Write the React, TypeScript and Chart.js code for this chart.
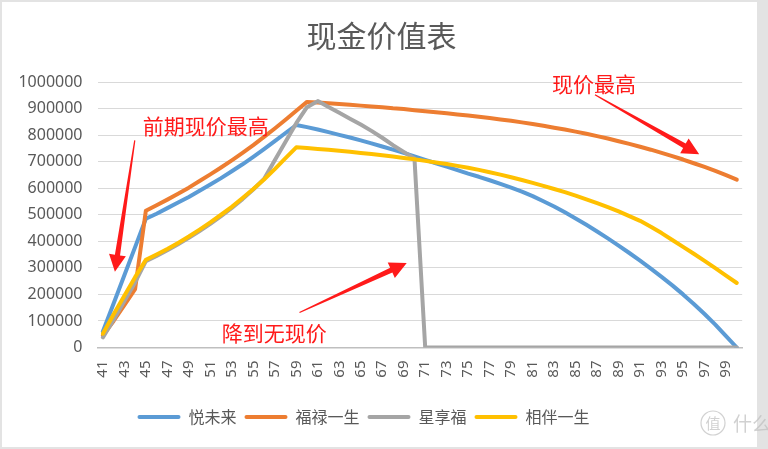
import React, { useEffect, useRef } from "react";
import { Chart, registerables } from "chart.js";

Chart.register(...registerables);

// ---- data ----
const ages = [
  41, 42, 43, 44, 45, 46, 47, 48, 49, 50, 51, 52, 53, 54, 55, 56, 57, 58, 59, 60,
  61, 62, 63, 64, 65, 66, 67, 68, 69, 70, 71, 72, 73, 74, 75, 76, 77, 78, 79, 80,
  81, 82, 83, 84, 85, 86, 87, 88, 89, 90, 91, 92, 93, 94, 95, 96, 97, 98, 99, 100,
];

const yueWeiLai = [
  60000, 166000, 272000, 378000, 485000, 504000, 525000, 546000, 567000, 590000,
  614000, 638000, 664000, 690000, 718000, 747000, 777000, 808000, 838000, 830000,
  821000, 811000, 801000, 791000, 780000, 769000, 757000, 745000, 733000, 720000,
  707000, 694000, 681000, 668000, 655000, 643000, 630000, 616000, 602000, 587000,
  570000, 551000, 531000, 509000, 486000, 462000, 437000, 411000, 384000, 356000,
  327000, 297000, 266000, 234000, 200000, 164000, 126000, 86000, 43000, 0,
];

const fuLuYiSheng = [
  45000, 100000, 160000, 220000, 515000, 536000, 557000, 579000, 602000, 627000,
  652000, 678000, 705000, 733000, 762000, 793000, 825000, 858000, 892000, 925000,
  923000, 920000, 917000, 914000, 911000, 908000, 905000, 901000, 898000, 894000,
  890000, 886000, 882000, 878000, 874000, 869000, 864000, 859000, 854000, 848000,
  842000, 835000, 828000, 821000, 813000, 805000, 796000, 787000, 777000, 767000,
  756000, 745000, 733000, 721000, 708000, 694000, 680000, 665000, 649000, 632000,
];

const xingXiangFu = [
  38000, 105000, 175000, 245000, 325000, 345000, 366000, 389000, 413000, 439000,
  466000, 495000, 526000, 559000, 595000, 635000, 705000, 775000, 845000, 905000,
  928000, 906000, 884000, 862000, 840000, 816000, 790000, 762000, 737000, 712000,
  0, 0, 0, 0, 0, 0, 0, 0, 0, 0,
  0, 0, 0, 0, 0, 0, 0, 0, 0, 0,
  0, 0, 0, 0, 0, 0, 0, 0, 0, 0,
];

const xiangBanYiSheng = [
  52000, 125000, 195000, 265000, 330000, 350000, 371000, 394000, 418000, 444000,
  471000, 500000, 530000, 563000, 597000, 633000, 672000, 713000, 754000, 751000,
  748000, 745000, 741000, 737000, 733000, 729000, 724000, 719000, 714000, 709000,
  703000, 697000, 691000, 684000, 677000, 669000, 660000, 651000, 641000, 631000,
  620000, 609000, 597000, 585000, 572000, 558000, 544000, 529000, 513000, 495000,
  477000, 455000, 431000, 405000, 379000, 353000, 326000, 299000, 271000, 243000,
];

const seriesNames = ["悦未来", "福禄一生", "星享福", "相伴一生"];
const seriesColors = ["#5b9bd5", "#ed7d31", "#a5a5a5", "#ffc000"];
const titleText = "现金价值表";

// annotations in data coordinates (category index, value)
const noteTexts = ["前期现价最高", "现价最高", "降到无现价"];
const noteIdx = [3.72, 41.8, 11.06];
const noteVal = [833000, 991000, 55000];

const arrowFromIdx = [2.97, 45.8, 18.3];
const arrowFromVal = [780000, 952000, 132000];
const arrowToIdx = [1.12, 55.5, 28.28];
const arrowToVal = [285000, 728000, 318000];

const CJK = '"Noto Sans CJK SC", "Noto Sans", sans-serif';
const GRAY_TEXT = "#595959";
const RED = "#ff1a1a";

function drawArrow(ctx: CanvasRenderingContext2D, x1: number, y1: number, x2: number, y2: number) {
  const dx = x2 - x1;
  const dy = y2 - y1;
  const len = Math.hypot(dx, dy);
  const ux = dx / len;
  const uy = dy / len;
  const nx = -uy;
  const ny = ux;
  const headLen = 17;
  const headHalf = 8.5;
  const bx = x2 - ux * headLen;
  const by = y2 - uy * headLen;
  ctx.beginPath();
  ctx.moveTo(x1 + nx * 0.6, y1 + ny * 0.6);
  ctx.lineTo(bx + nx * 2.6, by + ny * 2.6);
  ctx.lineTo(bx + nx * headHalf, by + ny * headHalf);
  ctx.lineTo(x2, y2);
  ctx.lineTo(bx - nx * headHalf, by - ny * headHalf);
  ctx.lineTo(bx - nx * 2.6, by - ny * 2.6);
  ctx.lineTo(x1 - nx * 0.6, y1 - ny * 0.6);
  ctx.closePath();
  ctx.fill();
}

const framePlugin = {
  id: "frame",
  beforeDraw(chart: any) {
    const ctx = chart.ctx as CanvasRenderingContext2D;
    ctx.save();
    ctx.fillStyle = "#e3e3e3";
    ctx.fillRect(0, 0, chart.width, chart.height);
    ctx.fillStyle = "#ffffff";
    ctx.fillRect(2, 2, 755, 445);
    ctx.restore();
  },
};

const layoutShiftPlugin = {
  id: "layoutShift",
  afterLayout(chart: any) {
    if (chart.legend) {
      chart.legend.left -= 18;
      chart.legend.right -= 18;
    }
  },
};

const notesPlugin = {
  id: "notes",
  afterDatasetsDraw(chart: any) {
    const ctx = chart.ctx as CanvasRenderingContext2D;
    const xs = chart.scales.x;
    const ys = chart.scales.y;
    ctx.save();
    ctx.fillStyle = RED;
    for (let i = 0; i < arrowFromIdx.length; i++) {
      drawArrow(
        ctx,
        xs.getPixelForValue(arrowFromIdx[i]),
        ys.getPixelForValue(arrowFromVal[i]),
        xs.getPixelForValue(arrowToIdx[i]),
        ys.getPixelForValue(arrowToVal[i])
      );
    }
    ctx.font = `21px ${CJK}`;
    ctx.textAlign = "left";
    ctx.textBaseline = "middle";
    for (let i = 0; i < noteTexts.length; i++) {
      ctx.fillText(noteTexts[i], xs.getPixelForValue(noteIdx[i]), ys.getPixelForValue(noteVal[i]));
    }
    ctx.restore();
  },
  afterDraw(chart: any) {
    const ctx = chart.ctx as CanvasRenderingContext2D;
    ctx.save();
    ctx.strokeStyle = "rgba(190,190,190,0.7)";
    ctx.fillStyle = "rgba(190,190,190,0.7)";
    ctx.lineWidth = 1.2;
    ctx.beginPath();
    ctx.arc(713, 423, 12, 0, Math.PI * 2);
    ctx.stroke();
    ctx.font = `15px ${CJK}`;
    ctx.textAlign = "center";
    ctx.textBaseline = "middle";
    ctx.fillText("值", 713, 423);
    ctx.font = `19px ${CJK}`;
    ctx.textAlign = "left";
    ctx.fillText("什么值得买", 733, 424);
    ctx.restore();
  },
};

export default function App() {
  const ref = useRef<HTMLCanvasElement>(null);

  useEffect(() => {
    const canvas = ref.current;
    if (!canvas) return;
    const seriesData = [yueWeiLai, fuLuYiSheng, xingXiangFu, xiangBanYiSheng];
    const chart = new Chart(canvas, {
      type: "line",
      data: {
        labels: ages.map(String),
        datasets: seriesData.map((d, i) => ({
          label: seriesNames[i],
          data: d,
          borderColor: seriesColors[i],
          backgroundColor: seriesColors[i],
          borderWidth: 4,
          pointRadius: 0,
          pointHoverRadius: 0,
          tension: 0,
          fill: false,
          borderCapStyle: "round" as const,
          borderJoinStyle: "round" as const,
          order: 4 - i,
        })),
      },
      options: {
        responsive: false,
        animation: false,
        devicePixelRatio: 1,
        events: [],
        layout: { padding: { left: 20, right: 25, top: 2, bottom: 14 } },
        plugins: {
          tooltip: { enabled: false },
          title: {
            display: true,
            text: titleText,
            color: GRAY_TEXT,
            font: { family: CJK, size: 30, weight: "normal" as any },
            padding: { top: 16, bottom: 28 },
          },
          legend: {
            display: true,
            position: "bottom",
            labels: {
              boxWidth: 43,
              boxHeight: 4,
              padding: 8,
              color: GRAY_TEXT,
              font: { family: CJK, size: 16 },
              useBorderRadius: true,
              borderRadius: 2,
              generateLabels: (ch: any) =>
                ch.data.datasets.map((ds: any, i: number) => ({
                  text: ds.label,
                  fillStyle: seriesColors[i],
                  strokeStyle: seriesColors[i],
                  lineWidth: 0,
                  hidden: false,
                  datasetIndex: i,
                  fontColor: GRAY_TEXT,
                  borderRadius: 2,
                })),
            },
          },
        },
        scales: {
          x: {
            type: "category",
            offset: true,
            grid: { display: false, drawTicks: false },
            border: { display: true, color: "#bfbfbf", width: 1.5 },
            ticks: {
              autoSkip: false,
              maxRotation: 90,
              minRotation: 90,
              padding: 13,
              color: GRAY_TEXT,
              font: { family: '"Noto Sans", sans-serif', size: 15 },
              callback: (_v: any, idx: number) => (idx % 2 === 0 ? String(ages[idx]) : ""),
            },
            afterFit: (s: any) => {
              s.height = 53.5;
            },
          },
          y: {
            min: 0,
            max: 1000000,
            grid: { color: "#d9d9d9", lineWidth: 1, drawTicks: false },
            border: { display: false },
            ticks: {
              stepSize: 100000,
              padding: 15,
              color: GRAY_TEXT,
              font: { family: '"Noto Sans", sans-serif', size: 16 },
              callback: (v: any) => String(v),
            },
            afterFit: (s: any) => {
              s.width = 77.5;
            },
          },
        },
      },
      plugins: [framePlugin, layoutShiftPlugin, notesPlugin],
    });
    return () => chart.destroy();
  }, []);

  return (
    <div style={{ position: "fixed", left: 0, top: 0, width: 768, height: 449 }}>
      <canvas ref={ref} width={768} height={449} style={{ display: "block", width: 768, height: 449 }} />
    </div>
  );
}
